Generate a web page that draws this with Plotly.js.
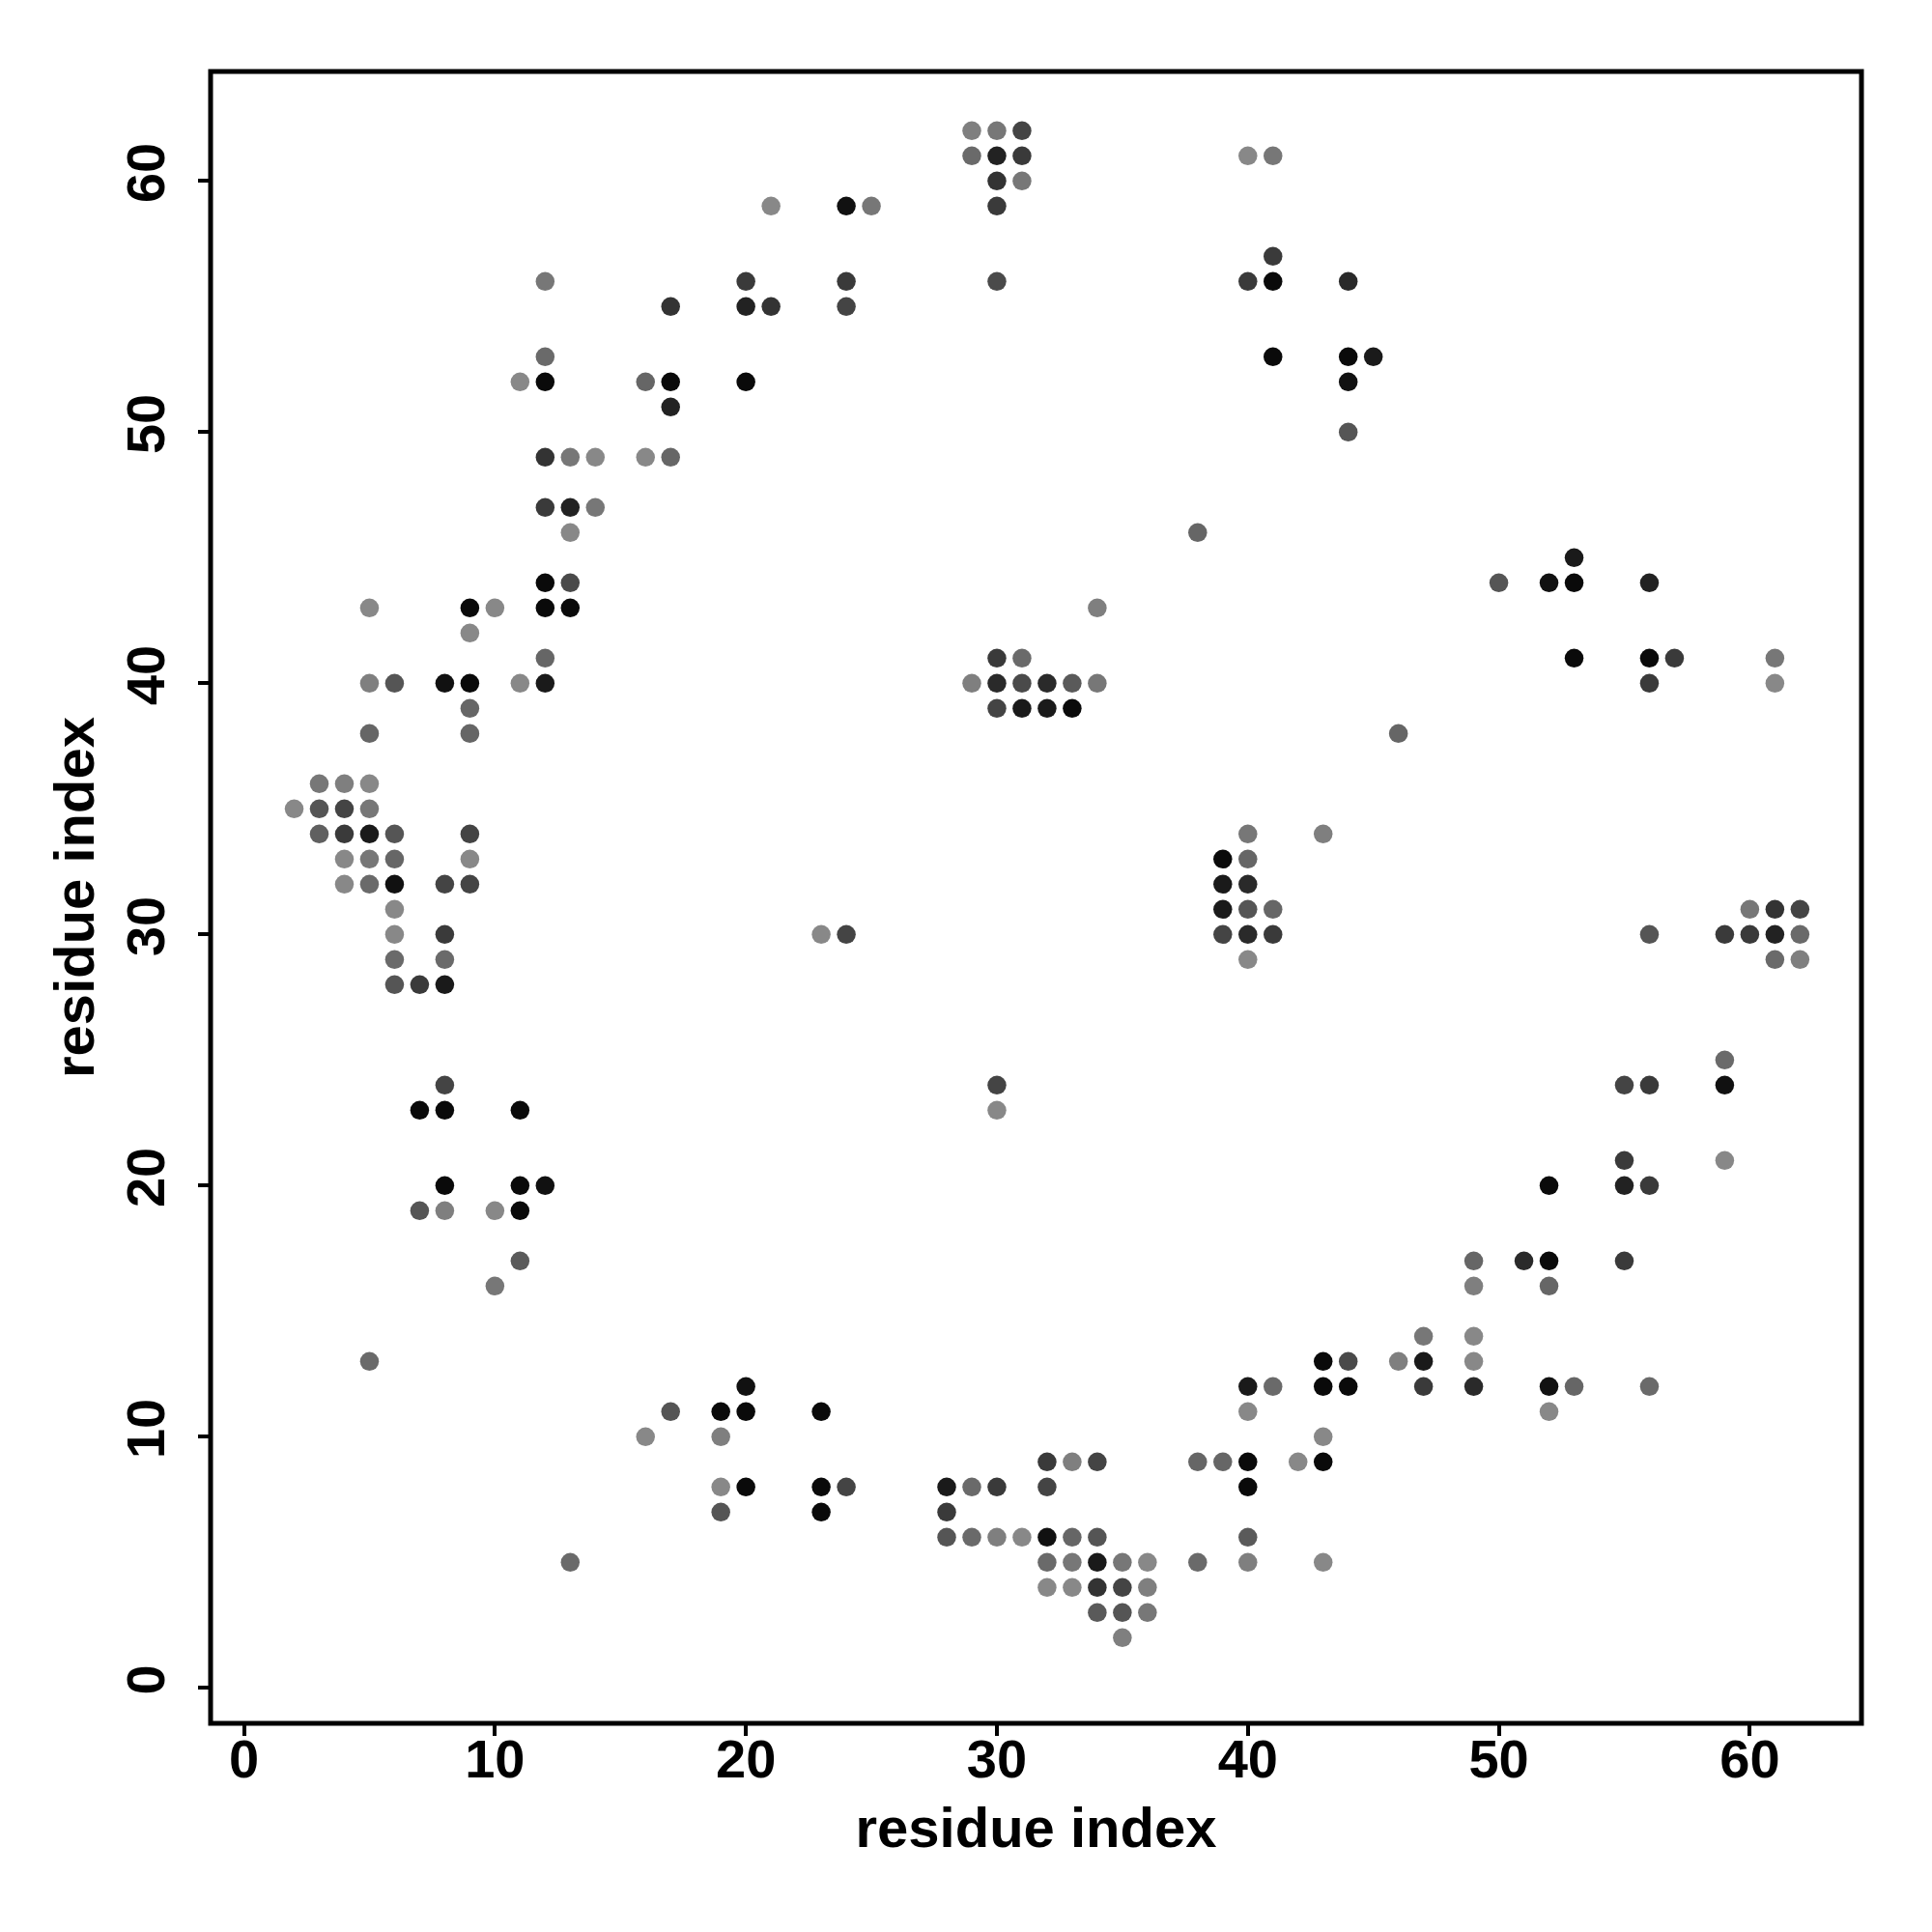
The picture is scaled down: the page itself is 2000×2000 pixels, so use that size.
<!DOCTYPE html>
<html>
<head>
<meta charset="utf-8">
<script src="https://cdn.plot.ly/plotly-3.0.1.min.js"></script>
<style>html,body{margin:0;padding:0;background:#fff;}#chart{width:2000px;height:2000px;}</style>
</head>
<body>
<div id="chart"></div>
<script>
// residue index (x) for each column of contacts
const colX = [2,3,4,5,6,7,8,9,10,11,12,13,14,16,17,19,20,21,23,24,25,28,29,30,31,32,33,34,35,36,38,39,40,41,42,43,44,45,46,47,49,50,51,52,53,55,56,57,59,60,61,62];
// partner residue indices (y) per column
const colY = [
  [35],
  [36,35,34],
  [36,35,34,33,32],
  [43,40,38,36,35,34,33,32,13],
  [40,34,33,32,31,30,29,28],
  [28,23,19],
  [40,32,30,29,28,24,23,20,19],
  [43,42,40,39,38,34,33,32],
  [43,19,16],
  [52,40,23,20,19,17],
  [56,53,52,49,47,44,43,41,40,20],
  [49,47,46,44,43,5],
  [49,47],
  [52,49,10],
  [55,52,51,49,11],
  [11,10,8,7],
  [56,55,52,12,11,8],
  [59,55],
  [30,11,8,7],
  [59,56,55,30,8],
  [59],
  [8,7,6],
  [62,61,40,8,6],
  [62,61,60,59,56,41,40,39,24,23,8,6],
  [62,61,60,41,40,39,6],
  [40,39,9,8,6,5,4],
  [40,39,9,6,5,4],
  [43,40,9,6,5,4,3],
  [5,4,3,2],
  [5,4,3],
  [46,9,5],
  [33,32,31,30,9],
  [61,56,34,33,32,31,30,29,12,11,9,8,6,5],
  [61,57,56,53,31,30,12],
  [9],
  [34,13,12,10,9,5],
  [56,53,52,50,13,12],
  [53],
  [38,13],
  [14,13,12],
  [17,16,14,13,12],
  [44],
  [17],
  [44,20,17,16,12,11],
  [45,44,41,12],
  [24,21,20,17],
  [44,41,40,30,24,20,12],
  [41],
  [30,25,24,21],
  [31,30],
  [41,40,31,30,29],
  [31,30,29]
];
// grey level of each point (0 = black, higher = lighter)
const colShade = [
  [136],
  [119,85,96],
  [127,68,58,136,136],
  [136,127,102,136,119,26,119,106,106],
  [85,85,102,17,136,136,106,85],
  [58,10,85],
  [17,68,58,106,26,68,10,10,127],
  [10,136,10,102,102,68,136,68],
  [136,136,119],
  [136,136,10,10,10,90],
  [119,106,10,51,58,10,10,102,26,17],
  [119,34,136,74,10,106],
  [136,119],
  [102,136,136],
  [51,10,34,102,85],
  [10,127,136,85],
  [58,34,10,17,10,10],
  [136,51],
  [136,10,10,10],
  [17,58,68,68,68],
  [119],
  [26,58,85],
  [127,106,127,106,106],
  [119,34,51,58,74,58,42,68,68,136,58,127],
  [68,58,119,106,74,26,136],
  [42,26,58,68,17,106,136],
  [90,10,127,102,119,136],
  [127,119,68,85,26,51,90],
  [119,68,85,127],
  [136,127,119],
  [102,102,106],
  [10,26,26,68,102],
  [136,58,119,102,42,85,42,136,26,136,10,10,90,127],
  [119,58,10,10,102,58,106],
  [136],
  [127,10,10,136,10,136],
  [42,10,17,85,74,10],
  [26],
  [102,127],
  [119,26,58],
  [102,127,136,136,42],
  [85],
  [42],
  [17,10,10,102,17,136],
  [26,10,10,102],
  [68,58,34,58],
  [34,10,58,85,58,58,106],
  [58],
  [58,106,17,136],
  [119,58],
  [119,136,51,34,106],
  [68,106,127]
];
const xTicks = [0,10,20,30,40,50,60];
const yTicks = [0,10,20,30,40,50,60];

const xs = [], ys = [], cols = [];
colX.forEach((x, i) => {
  colY[i].forEach((y, j) => {
    xs.push(x); ys.push(y);
    const g = colShade[i][j];
    cols.push('rgb(' + g + ',' + g + ',' + g + ')');
  });
});

const fontFam = 'Liberation Sans, Arial, Helvetica, sans-serif';
const trace = {
  x: xs, y: ys, type: 'scatter', mode: 'markers',
  marker: {size: 19.5, color: cols, line: {width: 0}},
  hoverinfo: 'x+y'
};
const axisBase = {
  showgrid: false, zeroline: false, showline: false,
  ticks: 'outside', ticklen: 12, tickwidth: 4, tickcolor: '#000',
  tickfont: {family: fontFam, size: 56, color: '#000', weight: 'bold'},
  automargin: false
};
const layout = {
  width: 2000, height: 2000,
  paper_bgcolor: '#fff', plot_bgcolor: '#fff',
  margin: {l: 218, r: 73, t: 74, b: 216},
  showlegend: false,
  xaxis: Object.assign({}, axisBase, {
    range: [-1.33, 64.45], tickvals: xTicks, ticktext: xTicks.map(String),
    ticklabelstandoff: -24,
    title: {text: 'residue index', font: {family: fontFam, size: 58, color: '#000', weight: 'bold'}, standoff: 20}
  }),
  yaxis: Object.assign({}, axisBase, {
    range: [-1.41, 64.36], tickvals: yTicks, ticktext: yTicks.map(String),
    tickangle: -90, ticklabelstandoff: 13,
    title: {text: 'residue index', font: {family: fontFam, size: 58, color: '#000', weight: 'bold'}, standoff: 2}
  }),
  shapes: [{type: 'rect', xref: 'paper', yref: 'paper', x0: 0, x1: 1, y0: 0, y1: 1,
            line: {color: '#000', width: 5}, fillcolor: 'rgba(0,0,0,0)'}]
};
Plotly.newPlot('chart', [trace], layout, {displayModeBar: false, staticPlot: true});
</script>
</body>
</html>
